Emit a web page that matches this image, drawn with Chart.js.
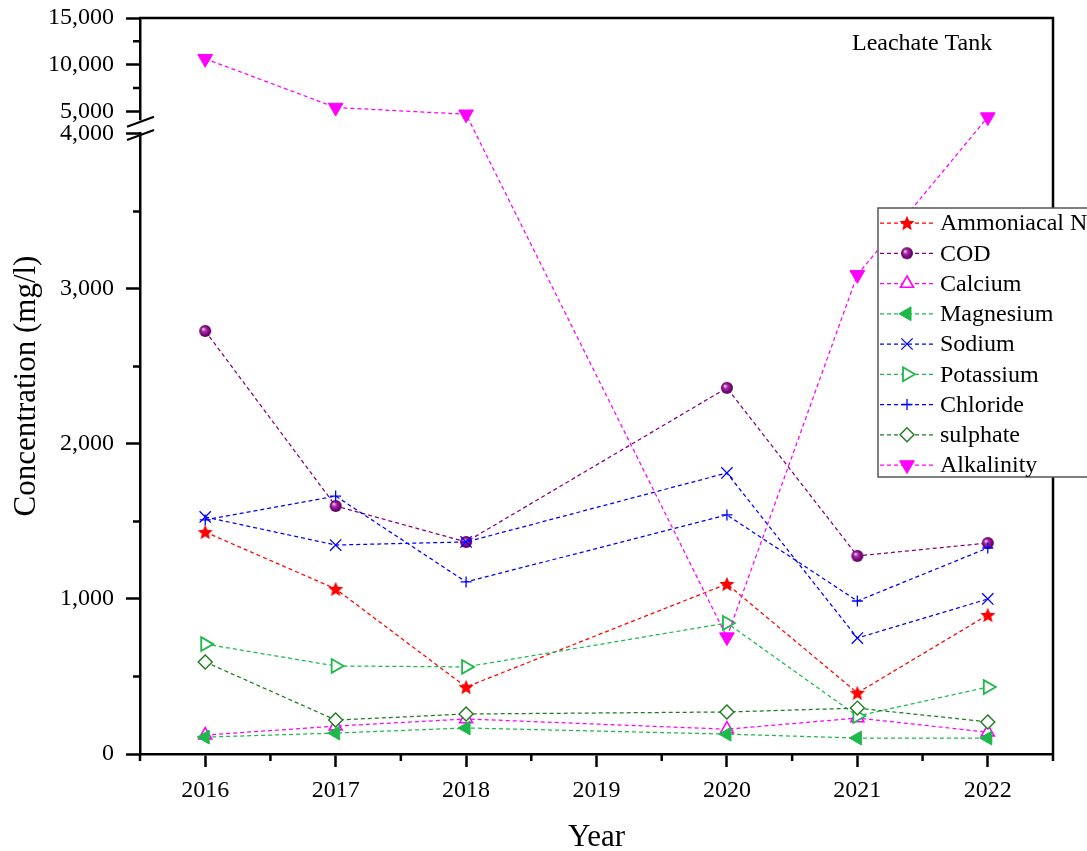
<!DOCTYPE html>
<html>
<head>
<meta charset="utf-8">
<script src="https://cdn.jsdelivr.net/npm/chart.js@4.4.0/dist/chart.umd.min.js"></script>
<style>
  html, body { margin: 0; padding: 0; background: #ffffff; }
  #wrap { width: 1087px; height: 851px; }
</style>
</head>
<body>
<div id="wrap"><canvas id="c" width="1087" height="851"></canvas></div>
<script>
// ---------------- data ----------------
const years = [2016, 2017, 2018, 2020, 2021, 2022];
const ammoniacalN = [1432, 1065, 432, 1097, 394, 897];
const cod = [2729, 1600, 1368, 2362, 1278, 1361];
const calcium = [122, 180, 226, 160, 232, 141];
const magnesium = [109, 135, 168, 128, 103, 103];
const sodium = [1529, 1348, 1368, 1813, 748, 1000];
const potassium = [709, 568, 562, 845, 245, 432];
const chloride = [1510, 1664, 1110, 1542, 987, 1329];
const sulphate = [594, 219, 258, 271, 296, 207];
const alkalinity = [10640, 5425, 4700, 754, 3091, 4400];

const xTickValues = [2016, 2017, 2018, 2019, 2020, 2021, 2022];
const xMinorTicks = [2015.5, 2016.5, 2017.5, 2018.5, 2019.5, 2020.5, 2021.5, 2022.5];
const yTickValues = [0, 1000, 2000, 3000, 4000, 5000, 10000, 15000];
const yTickLabels = ['0', '1,000', '2,000', '3,000', '4,000', '5,000', '10,000', '15,000'];
const yMinorTicks = [500, 1500, 2500, 3500, 7500, 12500];
const seriesNames = ['Ammoniacal N', 'COD', 'Calcium', 'Magnesium', 'Sodium', 'Potassium', 'Chloride', 'sulphate', 'Alkalinity'];
const annotationText = 'Leachate Tank';

// ---------------- broken axis transform ----------------
const BREAK_LOW = 4000;       // lower segment 0..4000
const UP_BASE = 4145;         // position of 5000 on the upper segment
const UP_SLOPE = 0.0603;      // compression of the upper segment (5000..15000)
function tf(v) { return v <= BREAK_LOW ? v : UP_BASE + (v - 5000) * UP_SLOPE; }

const FONT = "'Liberation Serif', 'Times New Roman', serif";
const GREEN = '#1DB94A';
const DKGREEN = '#1E7B1E';

// ---------------- custom marker images ----------------
function starImage(color, r) {
  const s = Math.ceil(r * 2 + 2);
  const c = document.createElement('canvas'); c.width = s; c.height = s;
  const g = c.getContext('2d');
  const cx = s / 2, cy = s / 2 + 0.7;
  g.beginPath();
  for (let i = 0; i < 10; i++) {
    const rr = i % 2 === 0 ? r : r * 0.45;
    const a = -Math.PI / 2 + i * Math.PI / 5;
    const px = cx + rr * Math.cos(a), py = cy + rr * Math.sin(a);
    if (i === 0) g.moveTo(px, py); else g.lineTo(px, py);
  }
  g.closePath(); g.fillStyle = color; g.fill();
  return c;
}
function sphereImage(r) {
  const s = Math.ceil(r * 2 + 2);
  const c = document.createElement('canvas'); c.width = s; c.height = s;
  const g = c.getContext('2d');
  const cx = s / 2, cy = s / 2;
  const grad = g.createRadialGradient(cx - r * 0.35, cy - r * 0.35, r * 0.05, cx, cy, r);
  grad.addColorStop(0, '#f0d0f0');
  grad.addColorStop(0.35, '#a030a0');
  grad.addColorStop(0.75, '#800080');
  grad.addColorStop(1, '#4a004a');
  g.beginPath(); g.arc(cx, cy, r, 0, Math.PI * 2); g.fillStyle = grad; g.fill();
  return c;
}
const starImg = starImage('#FF0000', 8);
const sphereImg = sphereImage(6);

// ---------------- dataset styles ----------------
const seriesValues = [ammoniacalN, cod, calcium, magnesium, sodium, potassium, chloride, sulphate, alkalinity];
const styles = [
  { color: '#FF0000', pointStyle: starImg, radius: 8, bg: '#FF0000', bw: 1, rot: 0 },
  { color: '#800080', pointStyle: sphereImg, radius: 6, bg: '#800080', bw: 1, rot: 0 },
  { color: '#FF00FF', pointStyle: 'triangle', radius: 7.5, bg: '#ffffff', bw: 1.6, rot: 0 },
  { color: GREEN, pointStyle: 'triangle', radius: 8, bg: GREEN, bw: 1, rot: 270 },
  { color: '#0000FF', pointStyle: 'crossRot', radius: 8, bg: '#0000FF', bw: 1.3, rot: 0 },
  { color: GREEN, pointStyle: 'triangle', radius: 8, bg: '#ffffff', bw: 1.8, rot: 90 },
  { color: '#0000FF', pointStyle: 'cross', radius: 5.5, bg: '#0000FF', bw: 1.3, rot: 0 },
  { color: DKGREEN, pointStyle: 'rectRot', radius: 7, bg: '#ffffff', bw: 1.4, rot: 0 },
  { color: '#FF00FF', pointStyle: 'triangle', radius: 8.5, bg: '#FF00FF', bw: 1, rot: 180 }
];
const DASH = [4, 3];

const datasets = seriesNames.map((name, i) => ({
  label: name,
  data: seriesValues[i].map((v, k) => ({ x: years[k], y: tf(v) })),
  borderColor: styles[i].color,
  borderWidth: 1.25,
  borderDash: DASH,
  fill: false,
  tension: 0,
  pointStyle: styles[i].pointStyle,
  pointRadius: styles[i].radius,
  pointBackgroundColor: styles[i].bg,
  pointBorderColor: styles[i].color,
  pointBorderWidth: styles[i].bw,
  pointRotation: styles[i].rot,
  order: seriesNames.length - i
}));

// ---------------- decoration plugin ----------------
const decor = {
  id: 'decor',
  afterDraw(chart) {
    const ctx = chart.ctx;
    const xs = chart.scales.x, ys = chart.scales.y;
    const a = chart.chartArea;
    ctx.save();
    ctx.setLineDash([]);
    ctx.strokeStyle = '#000'; ctx.lineWidth = 2.5; ctx.lineCap = 'butt';
    // frame top & right
    ctx.beginPath();
    ctx.moveTo(a.left - 1, a.top); ctx.lineTo(a.right, a.top);
    ctx.moveTo(a.right, a.top - 1.2); ctx.lineTo(a.right, a.bottom);
    ctx.stroke();
    // minor ticks
    ctx.beginPath();
    yMinorTicks.forEach(v => { const p = ys.getPixelForValue(tf(v)); ctx.moveTo(a.left - 7, p); ctx.lineTo(a.left, p); });
    xMinorTicks.forEach(v => { const p = xs.getPixelForValue(v); ctx.moveTo(p, a.bottom); ctx.lineTo(p, a.bottom + 7); });
    ctx.stroke();
    // axis break
    const pLow = ys.getPixelForValue(BREAK_LOW);
    const pUp = ys.getPixelForValue(tf(4000.0001));
    ctx.fillStyle = '#fff';
    ctx.fillRect(a.left - 3, pUp - 0.5, 6, (pLow - pUp) - 1.5);
    ctx.lineWidth = 2.2;
    ctx.beginPath();
    ctx.moveTo(a.left - 13, pUp + 6); ctx.lineTo(a.left + 14, pUp - 4);
    ctx.moveTo(a.left - 13, pLow + 6); ctx.lineTo(a.left + 14, pLow - 4);
    ctx.stroke();
    // annotation
    ctx.fillStyle = '#000';
    ctx.font = '24px ' + FONT;
    ctx.textAlign = 'left'; ctx.textBaseline = 'alphabetic';
    ctx.fillText(annotationText, 852, 50);
    // legend box (extends past the right edge, as in the reference)
    const lx = 878, ly = 208, lw = 260, lh = 269;
    ctx.fillStyle = '#fff';
    ctx.fillRect(lx, ly, lw, lh);
    ctx.strokeStyle = '#555'; ctx.lineWidth = 1.5;
    ctx.beginPath();
    ctx.moveTo(1090, ly); ctx.lineTo(lx, ly); ctx.lineTo(lx, ly + lh); ctx.lineTo(1090, ly + lh);
    ctx.stroke();
    seriesNames.forEach((name, i) => {
      const y = 223 + i * 30.25;
      const st = styles[i];
      ctx.setLineDash(DASH);
      ctx.strokeStyle = st.color; ctx.lineWidth = 1.25;
      ctx.beginPath(); ctx.moveTo(880, y); ctx.lineTo(934, y); ctx.stroke();
      ctx.setLineDash([]);
      ctx.fillStyle = st.bg; ctx.strokeStyle = st.color; ctx.lineWidth = st.bw;
      Chart.helpers.drawPoint(ctx, { pointStyle: st.pointStyle, radius: st.radius, rotation: st.rot, borderWidth: st.bw }, 907, y);
      ctx.fillStyle = '#000';
      ctx.font = '24px ' + FONT;
      ctx.textAlign = 'left'; ctx.textBaseline = 'middle';
      ctx.fillText(name, 940, y + 1);
    });
    ctx.restore();
  }
};

new Chart(document.getElementById('c'), {
  type: 'line',
  data: { datasets },
  plugins: [decor],
  options: {
    responsive: false,
    animation: false,
    events: [],
    layout: { padding: { top: 18, right: 34, left: 0, bottom: 0 } },
    plugins: { legend: { display: false }, tooltip: { enabled: false } },
    scales: {
      x: {
        type: 'linear',
        min: 2015.5, max: 2022.5,
        afterBuildTicks: s => { s.ticks = xTickValues.map(v => ({ value: v })); },
        afterFit: s => { s.height = 97; s.paddingLeft = 0; s.paddingRight = 0; },
        ticks: { callback: v => String(v), color: '#000', font: { family: FONT, size: 24 }, padding: 9, maxRotation: 0, autoSkip: false },
        grid: { drawOnChartArea: false, tickLength: 13, tickWidth: 2.5, tickColor: '#000' },
        border: { color: '#000', width: 2.5 },
        title: { display: true, text: 'Year', color: '#000', font: { family: FONT, size: 31 }, padding: { top: 0, bottom: -5 } }
      },
      y: {
        type: 'linear',
        min: 0, max: tf(15000),
        afterBuildTicks: s => { s.ticks = yTickValues.map(v => ({ value: tf(v) })); },
        afterFit: s => { s.width = 140; s.paddingTop = 0; s.paddingBottom = 0; },
        ticks: { callback: (v, i) => yTickLabels[i], color: '#000', font: { family: FONT, size: 24 }, padding: 12, autoSkip: false },
        grid: { drawOnChartArea: false, tickLength: 14, tickWidth: 2.5, tickColor: '#000' },
        border: { color: '#000', width: 2.5 },
        title: { display: true, text: 'Concentration (mg/l)', color: '#000', font: { family: FONT, size: 31 }, padding: { top: 8, bottom: 0 } }
      }
    }
  }
});
</script>
</body>
</html>
